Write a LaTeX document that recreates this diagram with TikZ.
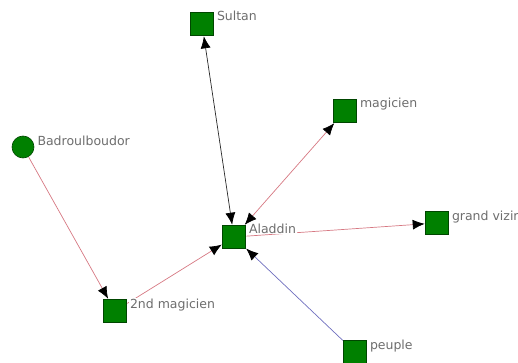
\documentclass[tikz,border=0pt]{standalone}
\usepackage{fontspec}
\setmainfont{DejaVu Sans}
\usepackage{xcolor}
\usepackage{tikz}
\usetikzlibrary{arrows.meta, backgrounds}
\definecolor {nodegreen} {RGB}{0, 128, 0}
\definecolor {nodeedge}  {RGB}{0, 70, 0}
\definecolor {linkred}   {RGB}{214, 120, 130}
\definecolor {linkblue}  {RGB}{110, 110, 190}
\definecolor {linkblack} {RGB}{40, 40, 40}
\definecolor {textgray}  {RGB}{110, 110, 110}

\tikzset{
	actor/.style={draw=nodeedge, fill=nodegreen, line width=0.6pt, minimum size=23pt, inner sep=0pt},
	square/.style={actor, rectangle},
	round/.style={actor, circle, minimum size=22pt},
	tag/.style={text=textgray, fill=white, inner sep=1pt, xshift=2pt, font=\fontsize{12.5}{15}\selectfont},
	link/.style={line width=0.7pt, shorten <=0.5pt, shorten >=0.5pt},
	tip/.tip={Latex[length=12pt, width=10pt, color=black]}
}

\begin{document}
\begin{tikzpicture}[x=1pt, y=-1pt]

	\useasboundingbox (0, 0) rectangle (518, 363);

	% actors
	\node[square, label={[tag, anchor=base west, yshift=3pt]east:Sultan}]        (sultan)    at (202, 24)  {};
	\node[square, label={[tag, anchor=base west, yshift=3pt]east:magicien}]      (magicien)  at (345, 111) {};
	\node[round,  label={[tag, anchor=base west, yshift=1pt]east:Badroulboudor}] (badroul)   at (23, 147)  {};
	\node[square, label={[tag, anchor=base west, yshift=4pt]east:Aladdin}]       (aladdin)   at (234, 237) {};
	\node[square, label={[tag, anchor=base west, yshift=3pt]east:grand vizir}]   (vizir)     at (437, 223) {};
	\node[square, label={[tag, anchor=base west, yshift=3pt]east:2nd magicien}]  (magicien2) at (115, 311) {};
	\node[square, label={[tag, anchor=base west, yshift=3pt]east:peuple}]        (peuple)    at (355, 352) {};

	% links, kept under the labels
	\begin{pgfonlayer}{background}
		\draw[link, linkblack, tip-tip] (sultan) -- (aladdin);
		\draw[link, linkred, tip-tip] (aladdin) -- (magicien);
		\draw[link, linkred, -tip] (aladdin) -- (vizir);
		\draw[link, linkred, -tip] (badroul) -- (magicien2);
		\draw[link, linkred, -tip] (magicien2) -- (aladdin);
		\draw[link, linkblue, -tip] (peuple) -- (aladdin);
	\end{pgfonlayer}

\end{tikzpicture}
\end{document}
